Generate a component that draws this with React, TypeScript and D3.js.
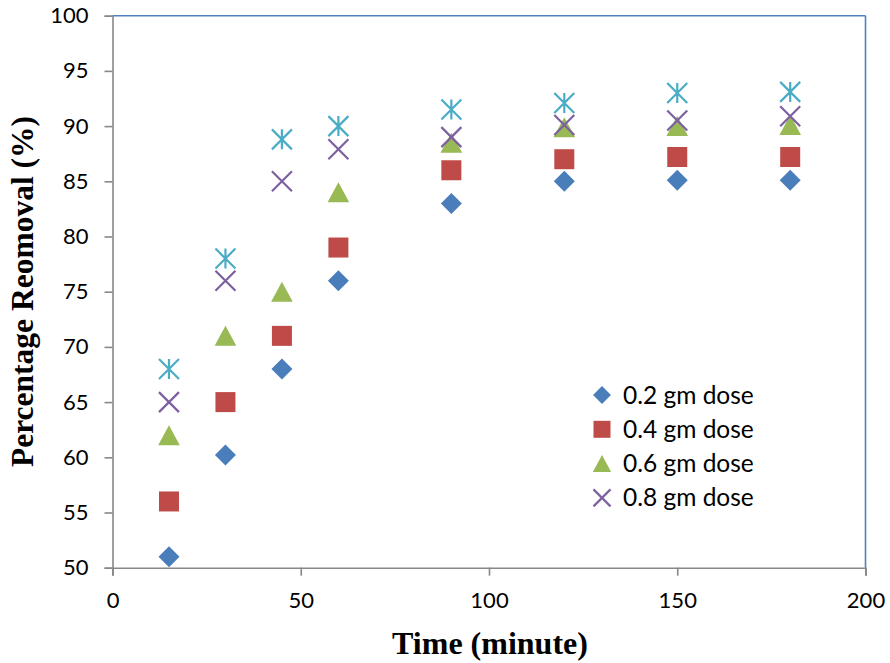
import React, { useEffect, useRef } from "react";
import * as d3 from "d3";

const times = [15, 30, 45, 60, 90, 120, 150, 180];
const dose02 = [51, 60.2, 68, 76, 83, 85, 85.1, 85.1];
const dose04 = [56, 65, 71, 79, 86, 87, 87.2, 87.2];
const dose06 = [62, 71, 75, 84, 88.5, 89.9, 90, 90.1];
const dose08 = [65, 76, 85, 87.9, 89, 90.1, 90.5, 90.9];
const doseStar = [68, 78, 88.8, 90, 91.5, 92.1, 93, 93.1];
const seriesNames = ["0.2 gm dose", "0.4 gm dose", "0.6 gm dose", "0.8 gm dose"];
const xTicks = [0, 50, 100, 150, 200];
const yTicks = [50, 55, 60, 65, 70, 75, 80, 85, 90, 95, 100];

const W = 890;
const H = 663;
const M = { left: 112.5, right: 865.5, top: 15.7, bottom: 567.7 };

const COLORS = ["#4A7EBB", "#BE4B48", "#98B954", "#7D60A0", "#4BACC6"];
const SHAPES = ["diamond", "square", "triangle", "x", "star"];

function Marker({ shape, x, y, color, s = 1 }: { shape: string; x: number; y: number; color: string; s?: number }) {
  const r = 10 * s;
  if (shape === "diamond") {
    const d = 10.5 * s;
    return <path d={`M${x},${y - d}L${x + d},${y}L${x},${y + d}L${x - d},${y}Z`} fill={color} />;
  }
  if (shape === "square") {
    return <rect x={x - r} y={y - r} width={2 * r} height={2 * r} fill={color} />;
  }
  if (shape === "triangle") {
    const hw = 10.8 * s;
    return <path d={`M${x},${y - r}L${x + hw},${y + r}L${x - hw},${y + r}Z`} fill={color} />;
  }
  if (shape === "x") {
    return (
      <path d={`M${x - r},${y - r}L${x + r},${y + r}M${x - r},${y + r}L${x + r},${y - r}`} stroke={color} strokeWidth={2.2} fill="none" />
    );
  }
  return (
    <path
      d={`M${x - r},${y - r}L${x + r},${y + r}M${x - r},${y + r}L${x + r},${y - r}M${x},${y - r}L${x},${y + r}`}
      stroke={color}
      strokeWidth={2.2}
      fill="none"
    />
  );
}

export default function App() {
  const xAxisRef = useRef<SVGGElement>(null);
  const yAxisRef = useRef<SVGGElement>(null);

  const x = d3.scaleLinear().domain([0, 200]).range([M.left, M.right]);
  const y = d3.scaleLinear().domain([50, 100]).range([M.bottom, M.top]);

  useEffect(() => {
    const xa = d3.axisBottom(x).tickValues(xTicks).tickSize(8).tickPadding(17).tickFormat(d3.format("d"));
    const ya = d3.axisLeft(y).tickValues(yTicks).tickSize(8).tickPadding(16).tickFormat(d3.format("d"));
    const gx = d3.select(xAxisRef.current!);
    gx.call(xa as any);
    gx.select(".domain").attr("stroke", "#888").attr("stroke-width", 1.6);
    gx.selectAll(".tick line").attr("stroke", "#888").attr("stroke-width", 1.6);
    gx.selectAll(".tick text").attr("font-family", "Lato, 'Open Sans', sans-serif").attr("font-size", 22).attr("fill", "#000");
    const gy = d3.select(yAxisRef.current!);
    gy.call(ya as any);
    gy.select(".domain").attr("stroke", "#888").attr("stroke-width", 1.6);
    gy.selectAll(".tick line").attr("stroke", "#888").attr("stroke-width", 1.6);
    gy.selectAll(".tick text").attr("font-family", "Lato, 'Open Sans', sans-serif").attr("font-size", 22).attr("fill", "#000");
  }, []);

  const allSeries = [dose02, dose04, dose06, dose08, doseStar];

  return (
    <div style={{ position: "absolute", left: 0, top: 0 }}>
      <svg width={W} height={H} style={{ display: "block", background: "#fff" }}>
        <rect x={0} y={0} width={W} height={H} fill="#fff" />
        <line x1={M.left} x2={M.right} y1={M.top} y2={M.top} stroke="#4F81BD" strokeWidth={1.6} />
        <line x1={M.right} x2={M.right} y1={M.top} y2={M.bottom} stroke="#4F81BD" strokeWidth={1.6} />
        <g ref={xAxisRef} transform={`translate(0,${M.bottom})`} />
        <g ref={yAxisRef} transform={`translate(${M.left},0)`} />
        {allSeries.map((vals, si) => (
          <g key={si}>
            {vals.map((v, i) => (
              <Marker key={i} shape={SHAPES[si]} x={x(times[i])} y={y(v)} color={COLORS[si]} />
            ))}
          </g>
        ))}
        <g>
          {seriesNames.map((name, i) => (
            <g key={name} transform={`translate(602,${395 + i * 34.3})`}>
              <Marker shape={SHAPES[i]} x={0} y={0} color={COLORS[i]} s={0.85} />
              <text x={21} y={0} dy="0.35em" fontFamily="Lato, 'Open Sans', sans-serif" fontSize={24.5} fill="#000">
                {name}
              </text>
            </g>
          ))}
        </g>
        <text
          transform={`translate(33,291.5) rotate(-90)`}
          textAnchor="middle"
          fontFamily="'Liberation Serif', 'Times New Roman', serif"
          fontWeight="bold"
          fontSize={31.5}
          fill="#000"
        >
          Percentage Reomoval (%)
        </text>
        <text
          x={490}
          y={654}
          textAnchor="middle"
          fontFamily="'Liberation Serif', 'Times New Roman', serif"
          fontWeight="bold"
          fontSize={32}
          fill="#000"
        >
          Time (minute)
        </text>
      </svg>
    </div>
  );
}
